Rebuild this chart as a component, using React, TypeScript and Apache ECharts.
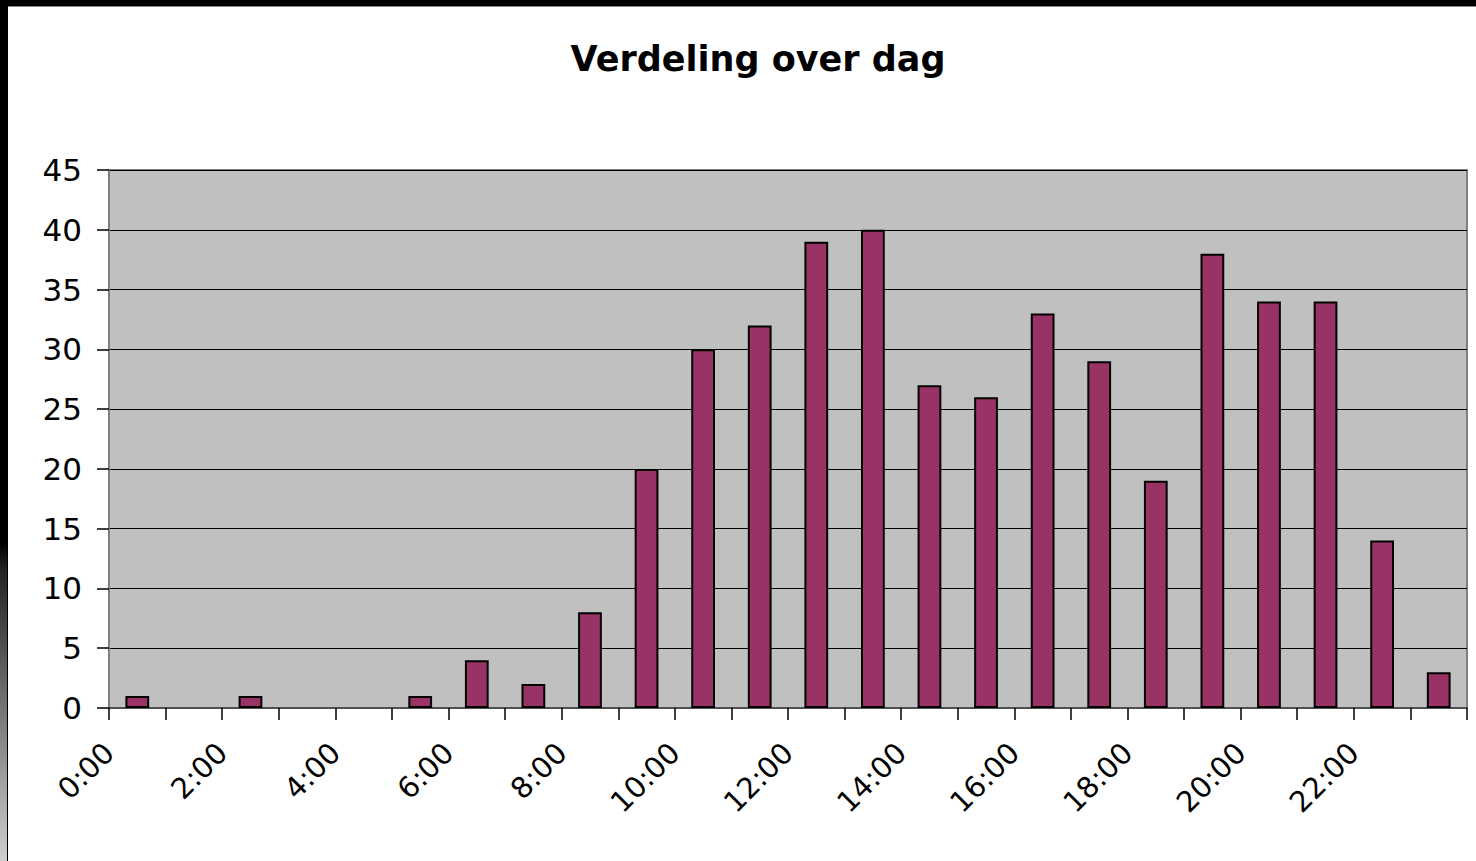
import React, { useEffect, useRef } from "react";
import * as echarts from "echarts";

const hours: string[] = [
  "0", "1", "2", "3", "4", "5", "6", "7", "8", "9", "10", "11",
  "12", "13", "14", "15", "16", "17", "18", "19", "20", "21", "22", "23",
];
const counts: number[] = [
  1, 0, 1, 0, 0, 1, 4, 2, 8, 20, 30, 32,
  39, 40, 27, 26, 33, 29, 19, 38, 34, 34, 14, 3,
];
const titleText = "Verdeling over dag";

export default function App() {
  const ref = useRef<HTMLDivElement>(null);
  useEffect(() => {
    if (!ref.current) return;
    const chart = echarts.init(ref.current, undefined, { renderer: "svg" });
    const font = "'DejaVu Sans', Arial, sans-serif";
    chart.setOption({
      animation: false,
      backgroundColor: "#ffffff",
      title: {
        text: titleText,
        left: 753,
        textAlign: "center",
        top: 36,
        textStyle: { fontFamily: font, fontSize: 35, fontWeight: "bold", color: "#000" },
      },
      grid: {
        left: 109,
        right: 9,
        top: 170,
        bottom: 153,
        show: true,
        backgroundColor: "#C0C0C0",
        borderColor: "#808080",
        borderWidth: 2,
      },
      xAxis: [
        {
          type: "category",
          data: hours,
          boundaryGap: true,
          axisLine: { show: true, lineStyle: { color: "#505050", width: 2 } },
          axisTick: { show: true, interval: 0, length: 12, lineStyle: { color: "#000", width: 1.5 } },
          axisLabel: { show: false },
          splitLine: { show: false },
        },
        {
          type: "value",
          position: "bottom",
          min: 0,
          max: 24,
          interval: 2,
          axisLine: { show: false },
          axisTick: { show: false },
          splitLine: { show: false },
          axisLabel: {
            show: true,
            rotate: 45,
            margin: 40,
            fontFamily: font,
            fontSize: 29,
            color: "#000",
            showMaxLabel: false,
            formatter: (v: number) => (v >= 24 ? "" : `${v}:00`),
          },
        },
      ],
      yAxis: {
        type: "value",
        min: 0,
        max: 45,
        interval: 5,
        axisLine: { show: true, lineStyle: { color: "#808080", width: 2 } },
        axisTick: { show: true, length: 12, lineStyle: { color: "#000", width: 1.5 } },
        axisLabel: { margin: 27, fontFamily: font, fontSize: 31, color: "#000" },
        splitLine: { show: true, lineStyle: { color: "#000", width: 1 } },
      },
      series: [
        {
          type: "bar",
          xAxisIndex: 0,
          data: counts.map((v) => (v === 0 ? { value: v, itemStyle: { borderWidth: 0 } } : v)),
          barWidth: "42%",
          itemStyle: { color: "#993366", borderColor: "#000", borderWidth: 2 },
        },
      ],
      graphic: [
        { type: "rect", left: 0, top: 0, shape: { width: 1476, height: 6 }, style: { fill: "#000" }, silent: true },
        { type: "rect", left: 0, top: 6, shape: { width: 1476, height: 1 }, style: { fill: "#888" }, silent: true },
        {
          type: "rect",
          left: 0,
          top: 0,
          shape: { width: 7, height: 861 },
          style: {
            fill: new echarts.graphic.LinearGradient(0, 0, 0, 1, [
              { offset: 0, color: "#000" },
              { offset: 0.63, color: "#000" },
              { offset: 0.66, color: "#222" },
              { offset: 1, color: "#cfcfcf" },
            ]),
          },
          silent: true,
        },
        { type: "rect", left: 7, top: 0, shape: { width: 1, height: 861 }, style: { fill: "#000" }, silent: true },
      ],
    });
    return () => chart.dispose();
  }, []);
  return (
    <div
      ref={ref}
      style={{ position: "fixed", left: 0, top: 0, width: 1476, height: 861 }}
    />
  );
}
